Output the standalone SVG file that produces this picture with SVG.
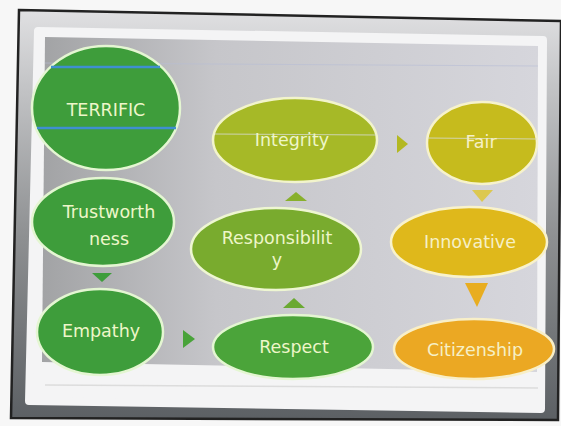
<svg xmlns="http://www.w3.org/2000/svg" width="561" height="426" viewBox="0 0 561 426">
<defs>
<linearGradient id="frameG" x1="0" y1="0" x2="0" y2="1">
<stop offset="0" stop-color="#e0e0e2"/>
<stop offset="0.18" stop-color="#c4c5c7"/>
<stop offset="0.55" stop-color="#8e9092"/>
<stop offset="1" stop-color="#5c6064"/>
</linearGradient>
<linearGradient id="slideG" x1="0" y1="0" x2="1" y2="0">
<stop offset="0" stop-color="#a2a3a5"/>
<stop offset="0.35" stop-color="#c6c6ca"/>
<stop offset="1" stop-color="#d6d6dc"/>
</linearGradient>
<style>
.n-dk{fill:#3e9d3b;stroke:#e4f6d2;stroke-width:2.5}
.t{font-family:"DejaVu Sans",Verdana,sans-serif;font-size:17.5px;text-anchor:middle;fill:#eef6c9}
.ty{fill:#f6f0c6}
.scan{stroke:#3f8fd0;stroke-width:2.5}
.faint{stroke:#d8dcd6;stroke-width:1;opacity:0.8}
</style>
</defs>
<rect width="561" height="426" fill="#f7f7f7"/>
<!-- photographed frame -->
<polygon points="19,10 561,21 558,420 11,418" fill="url(#frameG)" stroke="#222" stroke-width="2.5"/>
<path d="M38,31 L543,40 L541,409 L29,401 Z" fill="#f4f4f5" stroke="#f4f4f5" stroke-width="8" stroke-linejoin="round"/>
<polygon points="45,37 538,46 537,372 42,362" fill="url(#slideG)"/>
<line x1="45" y1="385" x2="538" y2="388" stroke="#dcdcdc" stroke-width="1.5"/>
<line x1="45" y1="63" x2="538" y2="66" stroke="#b8bed6" stroke-width="1" opacity="0.6"/>

<g id="connectors">
<polygon points="92,273 112,273 102,282" fill="#3e9d3b"/>
<polygon points="183,330 195,339 183,348" fill="#49a33a"/>
<polygon points="283,308 305,308 294,298" fill="#6aa932"/>
<polygon points="285,201 307,201 296,192" fill="#88b02c"/>
<polygon points="397,135 408,144 397,153" fill="#b3b822"/>
<polygon points="472,190 493,190 482,202" fill="#dcc850"/>
<polygon points="465,283 488,283 477,307" fill="#e8ad20"/>
</g>

<g id="terrific">
<ellipse class="n-dk" cx="106" cy="108" rx="74" ry="62"/>
<line class="scan" x1="51" y1="67" x2="160" y2="67"/>
<line class="scan" x1="37" y1="128" x2="176" y2="128"/>
<text class="t" x="106" y="116" font-size="18.5">TERRIFIC</text>
</g>

<g id="trustworthness">
<ellipse class="n-dk" cx="103" cy="222" rx="71" ry="44"/>
<text class="t" x="109" y="218">Trustworth</text>
<text class="t" x="109" y="245">ness</text>
</g>

<g id="empathy">
<ellipse class="n-dk" cx="100" cy="332" rx="63" ry="43"/>
<text class="t" x="101" y="337">Empathy</text>
</g>

<g id="respect">
<ellipse cx="293" cy="347" rx="80" ry="32" fill="#4ba43a" stroke="#e4f6d2" stroke-width="2.5"/>
<text class="t" x="294" y="353">Respect</text>
</g>

<g id="responsibility">
<ellipse cx="276" cy="249" rx="85" ry="41" fill="#79ab2e" stroke="#eef6d2" stroke-width="2.5"/>
<text class="t" x="277" y="244">Responsibilit</text>
<text class="t" x="277" y="266">y</text>
</g>

<g id="integrity">
<ellipse cx="295" cy="140" rx="82" ry="42" fill="#a6b927" stroke="#f2f4cc" stroke-width="2.5"/>
<line class="faint" x1="215" y1="134" x2="376" y2="135"/>
<text class="t" x="292" y="146">Integrity</text>
</g>

<g id="fair">
<ellipse cx="482" cy="143" rx="55" ry="41" fill="#c6bb1d" stroke="#f6f2cc" stroke-width="2.5"/>
<line class="faint" x1="428" y1="138" x2="537" y2="139"/>
<text class="t ty" x="481" y="148">Fair</text>
</g>

<g id="innovative">
<ellipse cx="469" cy="242" rx="78" ry="35" fill="#dfb81b" stroke="#f8f2cc" stroke-width="2.5"/>
<text class="t ty" x="470" y="248">Innovative</text>
</g>

<g id="citizenship">
<ellipse cx="474" cy="349" rx="80" ry="30" fill="#eba823" stroke="#f8efc8" stroke-width="2.5"/>
<text class="t ty" x="475" y="356">Citizenship</text>
</g>
</svg>
